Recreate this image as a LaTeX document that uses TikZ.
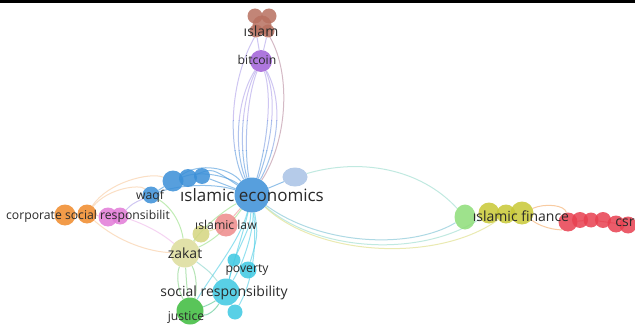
\documentclass[tikz,border=0pt]{standalone}
\usepackage{fontspec}
\setmainfont{Open Sans}
\usetikzlibrary{shapes.geometric}
\pgfdeclarelayer{bg}
\pgfsetlayers{bg,main}
\definecolor{cbrown}{HTML}{B87060}
\definecolor{cpurple}{HTML}{A060D8}
\definecolor{cblue}{HTML}{3A8FD8}
\definecolor{clblue}{HTML}{A9C3E6}
\definecolor{corange}{HTML}{F08A2A}
\definecolor{cpink}{HTML}{E27BD8}
\definecolor{claw}{HTML}{EE8A8A}
\definecolor{cyel}{HTML}{D5D580}
\definecolor{czak}{HTML}{DCDC9A}
\definecolor{ccyan}{HTML}{3CC8E2}
\definecolor{cgreen}{HTML}{3DBB3D}
\definecolor{clgreen}{HTML}{8EDD78}
\definecolor{cfin}{HTML}{C8C836}
\definecolor{ccsr}{HTML}{E84050}
\definecolor{clab}{HTML}{2A2A2A}
\definecolor{clav}{HTML}{A898E8}
\definecolor{cteal}{HTML}{8ED8C8}
\tikzset{
  bub/.style={circle, inner sep=0pt, draw=none, fill opacity=0.85},
  lab/.style={text=clab, inner sep=0pt},
  lS/.style={lab, font=\fontsize{12.2}{14}\selectfont},
  lM/.style={lab, font=\fontsize{14}{16}\selectfont},
  lL/.style={lab, font=\fontsize{17}{19}\selectfont},
  e/.style={line width=1pt, draw opacity=0.55},
}
\newcommand\btcbundle[1]{%
\draw[e, draw=#1] (btc) .. controls (236,100) and (234,150) .. (ec);
\draw[e, draw=#1] (btc) .. controls (241,100) and (239,150) .. (ec);
\draw[e, draw=#1] (btc) .. controls (246,100) and (244,150) .. (ec);
\draw[e, draw=#1] (btc) .. controls (272,95) and (268,140) .. (ec);
\draw[e, draw=#1] (btc) .. controls (277,95) and (273,140) .. (ec);
\draw[e, draw=#1] (btc) .. controls (283,100) and (279,145) .. (ec);
\draw[e, draw=#1] (isl3) .. controls (228,80) and (228,150) .. (ec);}
\begin{document}
\begin{tikzpicture}[x=1pt,y=-1pt]
\useasboundingbox (0,0) rectangle (635,329);
\begin{pgfonlayer}{bg}
\fill[white] (0,0) rectangle (635,329);
\end{pgfonlayer}
\draw[line width=3pt, black] (0,2) -- (635,2);

% ---- bubbles ----
% islam
\node[bub, fill=cbrown, minimum size=15pt] (isl1) at (255,16) {};
\node[bub, fill=cbrown, minimum size=15pt] (isl2) at (269,16) {};
\node[bub, fill=cbrown, minimum size=19pt] (isl3) at (262,25) {};
\node[bub, fill=cbrown, minimum size=13pt] (isl4) at (256,31) {};
\node[bub, fill=cbrown, minimum size=13pt] (isl5) at (268,31) {};
% bitcoin
\node[bub, fill=cpurple, minimum size=22pt] (btc) at (261,61) {};
% islamic economics cluster
\node[bub, fill=cblue, minimum size=35pt] (ec) at (252,195) {};
\node[bub, fill=clblue, ellipse, minimum width=25pt, minimum height=19pt] (lb) at (295,177) {};
\node[bub, fill=cblue, minimum size=21pt] (bl1) at (173,181) {};
\node[bub, fill=cblue, minimum size=18pt] (bl2) at (188,178) {};
\node[bub, fill=cblue, minimum size=16pt] (bl3) at (202,176) {};
\node[bub, fill=cblue, minimum size=17pt] (waqf) at (151,195) {};
% corporate social responsibility
\node[bub, fill=corange, minimum size=21pt] (or1) at (65,215) {};
\node[bub, fill=corange, minimum size=19pt] (or2) at (87,214) {};
\node[bub, fill=cpink, minimum size=19pt] (pk1) at (108,217) {};
\node[bub, fill=cpink, minimum size=17pt] (pk2) at (120,216) {};
% law, zakat
\node[bub, fill=claw, minimum size=23pt] (law) at (226,225) {};
\node[bub, fill=cyel, minimum size=17pt] (yl) at (201,234) {};
\node[bub, fill=czak, minimum size=29pt] (zak) at (185,253) {};
% social responsibility
\node[bub, fill=ccyan, minimum size=13pt] (pov1) at (234,260) {};
\node[bub, fill=ccyan, minimum size=17pt] (pov2) at (248,270) {};
\node[bub, fill=ccyan, minimum size=27pt] (sr) at (226,292) {};
\node[bub, fill=ccyan, minimum size=15pt] (cy3) at (235,312) {};
\node[bub, fill=cgreen, minimum size=27pt] (just) at (190,311) {};
% islamic finance
\node[bub, fill=clgreen, ellipse, minimum width=21pt, minimum height=25pt] (fin0) at (465,217) {};
\node[bub, fill=cfin, minimum size=21pt] (fin1) at (489,213) {};
\node[bub, fill=cfin, minimum size=19pt] (fin2) at (506,214) {};
\node[bub, fill=cfin, minimum size=23pt] (fin3) at (522,213) {};
% csr
\node[bub, fill=ccsr, minimum size=19pt] (csr1) at (568,222) {};
\node[bub, fill=ccsr, minimum size=16pt] (csr2) at (580,220) {};
\node[bub, fill=ccsr, minimum size=15pt] (csr3) at (591,220) {};
\node[bub, fill=ccsr, minimum size=16pt] (csr4) at (603,220) {};
\node[bub, fill=ccsr, minimum size=17pt] (csr5) at (616,224) {};
\node[bub, fill=ccsr, minimum size=17pt] (csr6) at (628,225) {};

% ---- labels ----
\node[lM] (tIslam) at (261,31) {ıslam};
\node[lS] (tBtc) at (257,60) {bitcoin};
\node[lL] (tEc) at (252,195) {ıslamic economics};
\node[lS] (tWaqf) at (150,196) {waqf};
\node[lS] (tCsr1) at (88,216) {corporate social responsibilit};
\node[lS] (tLaw) at (226,225) {ıslamic law};
\node[lM] (tZak) at (185,253) {zakat};
\node[lS] (tPov) at (247,270) {poverty};
\node[lM] (tSr) at (224,293) {social responsibility};
\node[lS] (tJust) at (186,317) {justice};
\node[lM] (tFin) at (521,216) {ıslamic finance};
\node[lM] (tCsr) at (625,223) {csr};

% ---- connectors ----
\begin{pgfonlayer}{bg}
% islam / bitcoin -> economics (lavender above, blue below)
\begin{scope}
\clip (0,0) rectangle (635,120);
\btcbundle{clav}
\end{scope}
\begin{scope}
\clip (0,120) rectangle (635,150);
\btcbundle{clav!50!cblue}
\end{scope}
\begin{scope}
\clip (0,150) rectangle (635,329);
\btcbundle{cblue!80!clav}
\end{scope}
\draw[e, draw=cbrown!60!clav] (isl3) .. controls (292,70) and (288,140) .. (ec);
\draw[e, draw=clav] (isl4) -- (btc);
\draw[e, draw=clav] (isl5) -- (btc);
% economics -> finance
\draw[e, draw=cteal] (lb) .. controls (360,158) and (420,168) .. (fin0);
\draw[e, draw=cblue!40!cteal] (ec) .. controls (320,245) and (410,250) .. (fin0);
\draw[e, draw=cteal] (ec) .. controls (318,252) and (420,258) .. (fin1);
\draw[e, draw=cfin!70] (ec) .. controls (320,258) and (440,262) .. (fin2);
\draw[e, draw=cblue] (ec) -- (lb);
% economics -> social responsibility cluster
\draw[e, draw=ccyan] (ec) .. controls (244,230) and (234,260) .. (sr);
\draw[e, draw=ccyan] (ec) .. controls (254,230) and (244,262) .. (sr);
\draw[e, draw=ccyan] (ec) .. controls (250,225) .. (pov1);
\draw[e, draw=ccyan] (ec) .. controls (258,235) .. (pov2);
\draw[e, draw=ccyan] (ec) .. controls (258,260) and (248,290) .. (cy3);
\draw[e, draw=ccyan] (ec) .. controls (240,240) and (215,270) .. (just);
\draw[e, draw=ccyan] (pov1) -- (sr);
\draw[e, draw=ccyan] (sr) -- (cy3);
% zakat -> justice
\draw[e, draw=cgreen!70] (zak) .. controls (176,275) and (178,290) .. (just);
\draw[e, draw=cgreen!70] (zak) .. controls (186,275) and (187,290) .. (just);
\draw[e, draw=cgreen!70] (zak) .. controls (197,275) and (197,292) .. (just);
\draw[e, draw=cgreen!60!ccyan] (sr) .. controls (214,302) and (206,306) .. (just);
\draw[e, draw=cgreen!60!ccyan] (sr) .. controls (214,312) and (206,316) .. (just);
% zakat / law -> economics
\draw[e, draw=clgreen] (zak) .. controls (205,225) and (225,210) .. (ec);
\draw[e, draw=clgreen] (zak) .. controls (215,240) and (230,225) .. (ec);
\draw[e, draw=claw] (law) -- (ec);
\draw[e, draw=cyel] (yl) -- (law);
\draw[e, draw=cyel] (yl) -- (zak);
\draw[e, draw=ccyan!60!czak] (zak) .. controls (210,272) .. (sr);
% blue cluster
\draw[e, draw=cblue] (bl1) .. controls (200,162) and (230,168) .. (ec);
\draw[e, draw=cblue] (bl1) .. controls (200,170) and (228,176) .. (ec);
\draw[e, draw=cblue] (bl2) .. controls (212,168) .. (ec);
\draw[e, draw=cblue] (bl3) -- (ec);
\draw[e, draw=cblue] (waqf) .. controls (175,186) and (210,182) .. (ec);
\draw[e, draw=cblue] (waqf) -- (bl1);
\draw[e, draw=cblue] (bl1) -- (bl2);
\draw[e, draw=cblue] (bl2) -- (bl3);
% waqf / corporate
\draw[e, draw=clav] (pk2) .. controls (132,204) .. (waqf);
\draw[e, draw=corange!50] (or2) .. controls (108,188) and (140,184) .. (waqf);
\draw[e, draw=corange!50] (or2) .. controls (108,182) and (150,172) .. (bl1);
\draw[e, draw=cpink!60] (pk2) .. controls (150,226) and (165,236) .. (zak);
\draw[e, draw=corange!50] (or2) .. controls (118,242) and (150,252) .. (zak);
\draw[e, draw=clgreen] (waqf) .. controls (176,210) and (182,230) .. (zak);
\draw[e, draw=corange] (or1) -- (or2);
\draw[e, draw=cpink] (or2) -- (pk1);
% finance / csr
\draw[e, draw=corange!80] (fin3) .. controls (545,203) and (565,205) .. (csr1);
\draw[e, draw=corange!80] (fin3) .. controls (545,230) and (562,230) .. (csr1);
\draw[e, draw=cfin] (fin0) -- (fin1);
\draw[e, draw=cfin] (fin1) -- (fin3);
\draw[e, draw=ccsr] (csr1) -- (csr3);
\draw[e, draw=ccsr] (csr3) -- (csr6);
\end{pgfonlayer}
\end{tikzpicture}
\end{document}
